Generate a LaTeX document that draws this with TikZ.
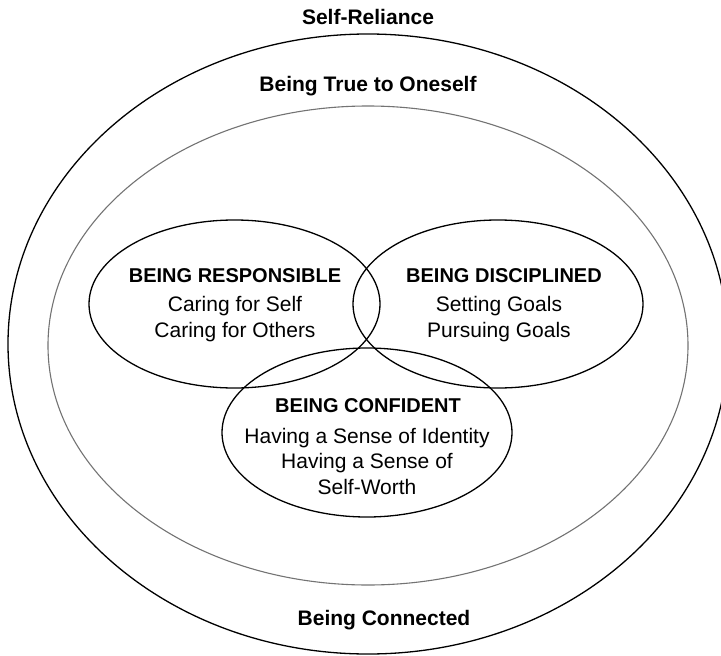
\documentclass[tikz,border=0pt]{standalone}
\usepackage{fontspec}
\setmainfont{Liberation Sans}
\usetikzlibrary{shapes.geometric}
\begin{document}
\begin{tikzpicture}[x=1pt,y=-1pt,
  ring/.style={draw=black, ellipse, inner sep=0pt, line width=1.3pt},
  innerring/.style={draw=black!55, ellipse, inner sep=0pt, line width=1.1pt},
  zonelabel/.style={anchor=base, inner sep=0pt, font=\fontsize{21}{25}\selectfont\bfseries},
  headtext/.style={anchor=base, inner sep=0pt, font=\fontsize{20}{24}\selectfont\bfseries},
  bodytext/.style={anchor=base, inner sep=0pt, font=\fontsize{21}{25}\selectfont}
]
\useasboundingbox (0,0) rectangle (721,656);
% rings
\node[ring, minimum width=720pt, minimum height=620pt] (outer) at (368,344) {};
\node[innerring, minimum width=640pt, minimum height=479pt] (inner) at (368,345.5) {};
% three circles
\node[ring, minimum width=291pt, minimum height=168pt] (resp) at (234.5,304) {};
\node[ring, minimum width=290pt, minimum height=168pt] (disc) at (498,304) {};
\node[ring, minimum width=290pt, minimum height=169pt] (conf) at (367,432.5) {};
% zone labels
\node[zonelabel] (selfrel) at (368,24) {Self-Reliance};
\node[zonelabel] (truelbl) at (368,91) {Being True to Oneself};
\node[zonelabel] (connlbl) at (384,625) {Being Connected};
% responsible
\node[headtext] (resphead) at (235,282) {BEING RESPONSIBLE};
\node[bodytext] (resp1) at (235,311) {Caring for Self};
\node[bodytext] (resp2) at (235,337) {Caring for Others};
% disciplined
\node[headtext] (dischead) at (504,282) {BEING DISCIPLINED};
\node[bodytext] (disc1) at (499,311) {Setting Goals};
\node[bodytext] (disc2) at (499,337) {Pursuing Goals};
% confident
\node[headtext] (confhead) at (368,412) {BEING CONFIDENT};
\node[bodytext] (conf1) at (367,443) {Having a Sense of Identity};
\node[bodytext] (conf2) at (367,468) {Having a Sense of};
\node[bodytext] (conf3) at (367,494) {Self-Worth};
\end{tikzpicture}
\end{document}
